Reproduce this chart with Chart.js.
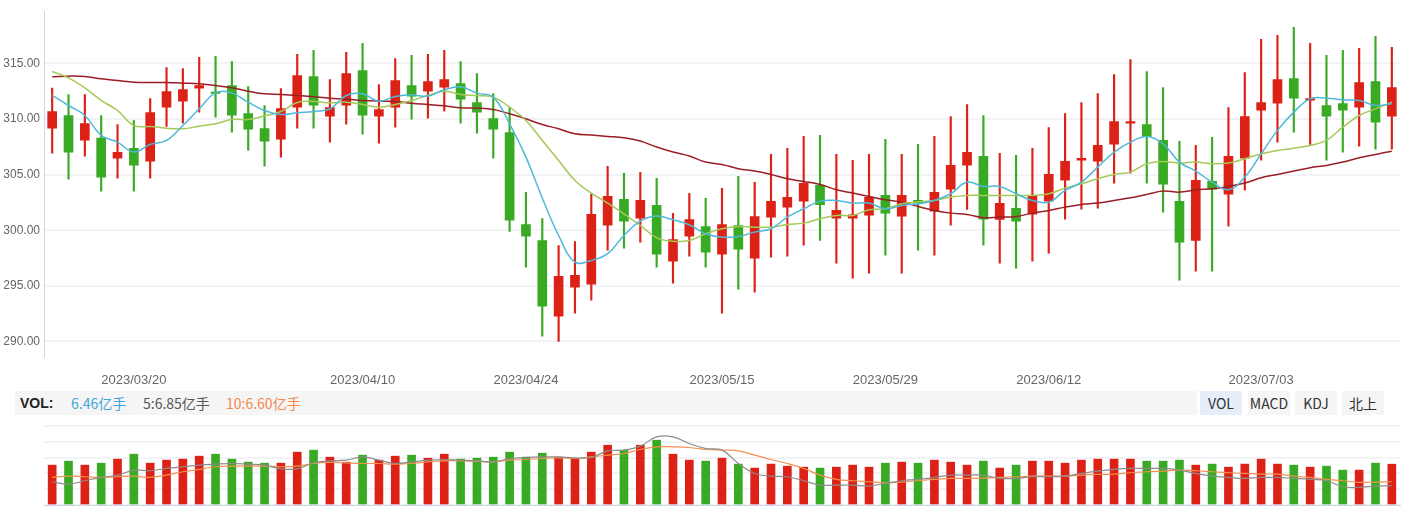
<!DOCTYPE html>
<html lang="zh-CN">
<head>
<meta charset="utf-8">
<title>日K线</title>
<script src="https://cdn.jsdelivr.net/npm/chart.js@4.4.1/dist/chart.umd.min.js"></script>
<style>
  html, body { margin: 0; padding: 0; background: #fff; }
  body { width: 1410px; height: 507px; position: relative; overflow: hidden;
         font-family: "Noto Sans CJK SC", "Liberation Sans", sans-serif; }
  #kline { position: absolute; left: 0; top: 0; }
  #vol { position: absolute; left: 0; top: 418px; }
  .vol-bar { position: absolute; left: 15px; top: 391px; width: 1182px; height: 24px; background: #f5f5f5; }
  .vol-bar span { position: absolute; top: 0; line-height: 24px; font-size: 14px; white-space: nowrap; }
  .btn { position: absolute; top: 391px; width: 42px; height: 24px; line-height: 24px; text-align: center;
         font-size: 14px; color: #333; background: #f5f5f5; }
  .btn.on { background: #e5eef9; }
</style>
</head>
<body>
<canvas id="kline" width="1410" height="390"></canvas>

<div class="vol-bar">
  <span style="left:5px;font-weight:bold;color:#222;font-family:'Liberation Sans',sans-serif">VOL:</span>
  <span style="left:56px;color:#3ea6d8">6.46亿手</span>
  <span style="left:128px;color:#555">5:6.85亿手</span>
  <span style="left:211px;color:#f08a4b">10:6.60亿手</span>
</div>
<div class="btn on" style="left:1200px">VOL</div>
<div class="btn" style="left:1248px">MACD</div>
<div class="btn" style="left:1295px">KDJ</div>
<div class="btn" style="left:1342px">北上</div>

<canvas id="vol" width="1410" height="89"></canvas>

<script>
/* 数据 - 日K (2023/03/13 ~ 2023/07/13) */

const dates = [
  '2023/03/13','2023/03/14','2023/03/15','2023/03/16','2023/03/17',
  '2023/03/20','2023/03/21','2023/03/22','2023/03/23','2023/03/24',
  '2023/03/27','2023/03/28','2023/03/29','2023/03/30','2023/03/31',
  '2023/04/03','2023/04/04','2023/04/06','2023/04/07',
  '2023/04/10','2023/04/11','2023/04/12','2023/04/13','2023/04/14',
  '2023/04/17','2023/04/18','2023/04/19','2023/04/20','2023/04/21',
  '2023/04/24','2023/04/25','2023/04/26','2023/04/27','2023/04/28',
  '2023/05/04','2023/05/05',
  '2023/05/08','2023/05/09','2023/05/10','2023/05/11','2023/05/12',
  '2023/05/15','2023/05/16','2023/05/17','2023/05/18','2023/05/19',
  '2023/05/22','2023/05/23','2023/05/24','2023/05/25','2023/05/26',
  '2023/05/29','2023/05/30','2023/05/31','2023/06/01','2023/06/02',
  '2023/06/05','2023/06/06','2023/06/07','2023/06/08','2023/06/09',
  '2023/06/12','2023/06/13','2023/06/14','2023/06/15','2023/06/16',
  '2023/06/19','2023/06/20','2023/06/21',
  '2023/06/26','2023/06/27','2023/06/28','2023/06/29','2023/06/30',
  '2023/07/03','2023/07/04','2023/07/05','2023/07/06','2023/07/07',
  '2023/07/10','2023/07/11','2023/07/12','2023/07/13'
];

// 只显示这些日期
const tickDates = ['2023/03/20','2023/04/10','2023/04/24','2023/05/15','2023/05/29','2023/06/12','2023/07/03'];
const priceTicks = [290, 295, 300, 305, 310, 315];

const opens = [
  309.18,310.32,308.11,308.29,306.49,307.36,306.22,311.07,311.61,312.78,
  312.40,313.02,310.50,309.15,308.20,311.07,313.83,310.26,311.25,314.37,
  310.26,311.07,313.02,312.51,312.87,313.20,311.49,310.05,308.79,300.52,
  299.08,292.27,294.88,295.15,300.46,302.77,301.09,302.23,297.22,299.47,
  300.34,297.85,300.43,297.49,301.18,302.08,302.62,304.03,301.09,301.09,
  301.36,303.13,301.27,302.68,301.72,303.70,305.85,306.64,300.97,301.96,
  301.45,302.62,304.51,306.30,306.21,307.74,309.63,309.51,308.08,302.59,
  299.08,304.39,303.25,306.48,310.80,311.43,313.65,311.70,311.22,311.40,
  311.07,313.38,310.26
];
const closes = [
  310.68,307.03,309.60,304.78,307.00,305.86,310.59,312.48,312.66,313.02,
  312.30,310.35,309.09,308.02,310.95,313.92,311.25,311.04,314.10,310.35,
  310.86,313.47,312.06,313.38,313.56,311.79,310.62,309.09,300.91,299.47,
  293.17,295.85,295.94,301.42,303.04,300.82,302.68,297.85,299.17,300.97,
  298.03,300.52,298.30,301.24,302.59,302.95,304.21,302.29,301.78,301.39,
  302.95,301.54,303.13,302.44,303.40,305.83,307.00,300.99,302.41,300.82,
  303.04,305.02,306.19,306.46,307.63,309.78,309.78,308.44,304.15,298.93,
  304.48,303.70,306.64,310.23,311.49,313.56,311.88,311.83,310.26,310.80,
  313.29,309.72,312.84
];
const highs = [
  312.78,312.21,312.21,310.32,309.51,309.87,311.85,314.64,314.55,315.54,
  315.63,315.18,312.93,311.22,312.75,315.81,316.17,313.56,315.99,316.80,
  313.11,315.45,315.72,315.81,316.17,315.18,314.10,312.30,311.04,303.40,
  301.06,298.63,298.99,303.22,305.74,305.11,305.20,304.66,301.51,303.31,
  302.86,303.76,304.84,304.30,306.82,307.36,308.44,308.53,306.82,306.28,
  306.82,308.17,306.82,307.72,308.44,310.23,311.31,310.32,306.91,306.73,
  307.36,309.24,310.50,311.49,312.30,314.01,315.36,314.28,312.84,307.99,
  307.63,308.35,311.04,314.19,317.16,317.52,318.24,316.80,315.72,316.17,
  316.35,317.43,316.44
];
const lows = [
  306.93,304.60,306.67,303.52,304.69,303.52,304.69,309.33,309.63,310.62,
  310.17,308.82,307.21,305.77,306.58,309.18,309.18,307.93,309.54,308.65,
  307.84,309.27,309.99,310.08,310.71,309.63,308.73,306.49,299.89,296.68,
  290.48,290.00,292.55,293.71,298.21,298.39,298.93,296.68,295.24,297.67,
  296.68,292.55,294.70,294.43,297.58,297.67,298.66,299.08,297.04,295.69,
  296.14,297.76,296.14,298.21,297.76,300.46,301.87,298.66,297.04,296.59,
  297.22,297.94,301.00,301.90,301.99,304.24,305.13,304.24,301.63,295.51,
  296.32,296.32,300.37,303.61,306.30,307.92,308.82,307.72,306.30,307.02,
  307.56,307.29,307.29
];

// 均线
const ma5 = [
  312.12,311.22,310.32,308.53,307.93,307.03,307.72,308.08,309.42,310.92,
  312.36,312.33,311.52,310.77,310.41,310.56,310.68,310.92,312.12,312.27,
  311.61,312.03,312.18,312.06,312.63,312.90,312.33,311.97,309.57,306.58,
  302.90,299.53,297.13,297.28,297.89,299.53,300.82,301.27,300.94,300.49,
  299.68,299.38,299.44,299.83,300.13,301.18,301.93,302.62,302.68,302.44,
  302.44,301.93,302.23,302.38,302.68,303.28,304.33,303.94,303.94,303.28,
  302.68,302.53,303.58,304.33,305.68,307.02,307.92,308.44,307.78,306.13,
  305.32,304.33,303.64,304.78,306.88,308.98,310.62,311.82,311.88,311.73,
  311.67,311.22,311.37
];
const ma10 = [
  314.28,313.71,312.81,311.67,310.77,309.42,309.33,309.18,309.12,309.36,
  309.57,309.96,309.96,310.29,310.68,311.49,311.58,311.46,311.52,311.31,
  311.07,311.31,311.67,312.12,312.51,312.21,312.12,311.97,311.07,309.87,
  308.08,306.28,304.48,303.34,302.44,301.48,300.43,299.32,299.02,299.08,
  299.68,300.13,300.34,300.28,300.28,300.52,300.64,301.03,301.33,301.33,
  301.84,301.93,302.38,302.53,302.68,302.98,303.13,303.13,303.13,303.13,
  303.13,303.28,303.79,304.18,304.63,305.02,305.23,305.98,306.19,306.04,
  306.13,305.98,306.04,306.43,306.88,307.18,307.38,307.63,308.08,309.27,
  310.32,310.92,311.52
];
const ma60 = [
  313.80,313.86,313.83,313.62,313.47,313.32,313.29,313.29,313.23,313.17,
  313.02,312.81,312.51,312.27,312.21,312.12,312.00,311.88,311.79,311.67,
  311.61,311.58,311.43,311.31,311.19,311.01,310.98,310.86,310.47,310.02,
  309.51,309.12,308.67,308.56,308.44,308.32,308.02,307.48,307.03,306.67,
  306.13,305.92,305.53,305.32,305.02,304.63,304.39,304.12,303.64,303.34,
  303.04,302.74,302.53,302.14,301.78,301.54,301.42,301.12,301.18,301.24,
  301.54,301.78,302.08,302.32,302.44,302.68,302.92,303.22,303.52,303.43,
  303.64,303.73,303.94,304.24,304.72,305.02,305.32,305.62,305.83,306.13,
  306.52,306.82,307.11
];

// 成交量 (亿手)
const volume = [
  6.31,6.94,6.31,6.62,7.26,8.04,6.62,7.10,7.26,7.73,
  8.04,7.26,6.78,6.62,6.62,8.36,8.68,7.57,6.78,7.89,
  7.10,7.73,7.89,7.41,8.04,7.26,7.41,7.57,8.36,7.57,
  8.20,7.57,7.26,8.36,9.46,8.68,9.46,10.25,8.04,7.10,
  6.94,7.41,6.47,5.84,6.47,6.15,5.99,5.84,5.99,6.31,
  5.99,6.62,6.78,6.62,7.10,6.78,6.31,6.94,5.84,6.31,
  6.94,6.94,6.62,7.10,7.26,7.26,7.26,6.94,6.94,7.10,
  6.31,6.47,5.99,6.47,7.26,6.47,6.31,5.99,6.15,5.52,
  5.52,6.62,6.46
];
const volMa5 = [
  3.68,3.31,3.84,4.36,4.73,5.52,5.42,5.78,6.05,6.31,
  6.47,6.57,6.47,6.31,5.73,5.73,6.68,6.99,7.10,7.62,
  7.10,6.57,6.83,7.10,7.20,7.10,6.99,6.83,7.31,7.52,
  7.62,7.62,7.47,7.52,8.57,8.68,9.31,10.78,10.78,9.73,
  8.94,8.68,6.57,4.99,4.57,4.47,3.84,3.15,3.15,3.15,
  3.00,3.42,3.84,4.05,4.36,4.73,4.73,4.73,4.21,4.21,
  4.47,4.47,4.57,4.99,5.36,5.63,5.78,5.78,5.78,5.52,
  4.99,4.57,4.36,4.21,4.36,4.36,4.21,4.05,3.84,2.89,
  2.79,3.00,3.05
];
const volMa10 = [
  4.36,4.57,4.47,4.36,4.47,4.57,4.36,4.73,5.26,5.63,
  6.05,6.15,6.15,6.15,6.05,6.15,6.57,6.73,6.68,6.57,
  6.57,6.47,6.57,6.83,6.99,6.99,6.89,6.83,7.10,7.20,
  7.36,7.47,7.36,7.62,7.89,8.15,8.78,9.20,9.20,9.10,
  8.78,8.68,8.57,7.89,7.20,6.57,5.78,4.73,4.05,3.84,
  3.68,3.52,3.63,3.84,4.05,4.21,4.21,4.26,4.36,4.47,
  4.57,4.57,4.57,4.73,4.84,4.89,5.10,5.26,5.36,5.52,
  5.42,5.26,5.10,4.99,4.89,4.89,4.57,4.36,4.05,3.84,
  3.58,3.63,3.68
];

const RED = '#dc2117';
const GREEN = '#38aa24';
const GRID = '#f1f3f6';
const AXIS = '#c6d6ec';

Chart.defaults.font.family = '"Liberation Sans", Arial, sans-serif';

// 涨红跌绿
const candleColors = closes.map((c, i) => (c >= opens[i] ? RED : GREEN));

function maLine(label, data, color, width) {
  return {
    type: 'line', label: label, data: data,
    borderColor: color, borderWidth: width,
    pointRadius: 0, tension: 0.4, order: 0
  };
}

/* K线图 */
new Chart(document.getElementById('kline'), {
  type: 'bar',
  data: {
    labels: dates,
    datasets: [
      maLine('MA5', ma5, '#4fb9dc', 1.5),
      maLine('MA10', ma10, '#a5c957', 1.5),
      maLine('MA60', ma60, '#9b1e26', 1.5),
      {
        label: '实体',
        data: dates.map((d, i) => [opens[i], closes[i]]),
        backgroundColor: candleColors,
        barThickness: 9, minBarLength: 1.5, grouped: false, order: 1
      },
      {
        label: '影线',
        data: dates.map((d, i) => [lows[i], highs[i]]),
        backgroundColor: candleColors,
        barThickness: 1.5, grouped: false, order: 2
      }
    ]
  },
  options: {
    responsive: false,
    animation: false,
    events: [],
    layout: { padding: { top: 11, right: 10, left: 0, bottom: 0 } },
    plugins: { legend: { display: false }, tooltip: { enabled: false } },
    scales: {
      x: {
        grid: { display: false, drawTicks: false },
        border: { display: false },
        ticks: {
          autoSkip: false, maxRotation: 0, minRotation: 0, padding: 16,
          color: '#666', font: { size: 13 },
          callback(v) {
            const l = this.getLabelForValue(v);
            return tickDates.includes(l) ? l : '';
          }
        },
        afterFit(s) { s.height = 33; }
      },
      y: {
        min: 288.6, max: 319.7,
        afterBuildTicks(s) { s.ticks = priceTicks.map(v => ({ value: v })); },
        ticks: { padding: 4, color: '#666', font: { size: 12 }, callback: v => Number(v).toFixed(2) },
        grid: { color: GRID, lineWidth: 2, drawTicks: false },
        border: { color: AXIS },
        afterFit(s) { s.width = 44; }
      }
    }
  }
});

/* 成交量 */
new Chart(document.getElementById('vol'), {
  type: 'bar',
  data: {
    labels: dates,
    datasets: [
      maLine('MA5', volMa5, '#8c8c8c', 1.2),
      maLine('MA10', volMa10, '#f39150', 1.2),
      {
        label: 'VOL',
        data: volume,
        backgroundColor: candleColors,
        barThickness: 8, grouped: false, order: 1
      }
    ]
  },
  options: {
    responsive: false,
    animation: false,
    events: [],
    layout: { padding: { top: 8, right: 10, left: 0, bottom: 2 } },
    plugins: { legend: { display: false }, tooltip: { enabled: false } },
    scales: {
      x: {
        grid: { display: false, drawTicks: false },
        border: { color: AXIS },
        ticks: { display: false },
        afterFit(s) { s.height = 0; }
      },
      y: {
        min: 0, max: 12.5,
        ticks: { display: false, stepSize: 2.5 },
        grid: { color: GRID, lineWidth: 2, drawTicks: false },
        border: { display: false },
        afterFit(s) { s.width = 44; }
      }
    }
  }
});
</script>
</body>
</html>
